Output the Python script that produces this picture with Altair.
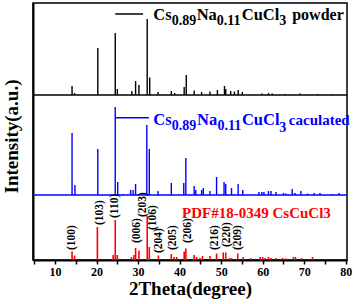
import altair as alt
import pandas as pd

# ---------------- data ----------------
# Cs0.89Na0.11CuCl3 powder (black)
powder_2theta = [14.1, 14.7, 20.3, 24.5, 25.0, 28.5, 29.4, 30.2, 32.2, 32.8, 34.8,
                 38.0, 38.8, 41.1, 41.6, 43.5, 45.3, 47.3, 49.1, 50.8, 51.1, 52.3,
                 53.2, 54.1, 55.1, 59.8, 61.4, 62.3, 65.4, 69.0, 73.3, 76.6]
powder_int = [9, 2, 47, 62, 6, 4, 14, 10, 76, 17.6, 3,
              4, 2, 8, 20, 4.5, 3, 3.5, 5, 9, 6, 4,
              3.5, 5, 3, 1.5, 2, 1.5, 1, 1.5, 1, 0.8]

# Cs0.89Na0.11CuCl3 calculated (blue)
calc_2theta = [14.1, 14.8, 20.3, 24.5, 25.1, 26.4, 28.2, 28.8, 29.4, 32.1, 32.7,
               34.8, 38.0, 41.0, 41.5, 43.5, 43.9, 45.3, 45.7, 47.3, 48.9, 50.7,
               51.1, 52.5, 54.1, 55.2, 59.1, 59.8, 60.3, 61.4, 62.0, 63.2, 65.0,
               65.6, 67.1, 67.8, 69.2, 70.8, 72.4, 73.8, 76.6, 78.4]
calc_int = [62, 10, 46, 88, 13, 1, 5, 5, 11, 70, 46,
            4, 12, 12, 37, 9, 5, 5, 7, 4, 18, 13,
            11, 7, 11, 5, 3, 3, 3, 4, 4, 3, 2,
            1.5, 6, 2, 4, 1.5, 2, 2, 1, 2]

# PDF#18-0349 CsCuCl3 (red sticks)
pdf_2theta = [14.1, 14.7, 20.2, 24.0, 24.5, 25.0, 28.4, 29.0, 29.4, 30.2, 32.2,
              32.7, 34.9, 38.0, 38.7, 39.3, 41.1, 41.5, 43.5, 44.1, 44.9, 45.5,
              47.3, 48.9, 50.5, 51.1, 52.0, 52.5, 54.0, 55.3, 57.1, 59.4, 60.0,
              60.6, 61.4, 62.0, 63.2, 64.8, 65.6, 67.4, 67.9, 69.4, 72.0]
pdf_int = [8.5, 4.5, 33, 5, 40, 5, 3, 5, 12, 9.5, 44,
           13, 4.5, 6, 3, 3, 8.5, 11.5, 5, 3, 2, 4,
           4, 6.5, 7.5, 7.5, 2, 2, 6.5, 3, 2, 3, 3,
           2, 3, 2, 2, 2, 1.5, 3, 3, 2, 3]

# hkl annotations
hkl_text = ["(100)", "(103)", "(110)", "(006)", "(203)", "(106)",
            "(204)", "(205)", "(206)", "(216)", "(220)", "(209)"]
hkl_2theta = [14.0, 20.8, 24.45, 29.7, 31.3, 33.6, 35.1, 38.5, 42.0, 48.5, 51.3, 54.1]
hkl_bottom = [10, 35, 42, 17, 43, 30, 7, 10, 17, 10, 13, 10]

POWDER_BASE = 165
CALC_BASE = 65
X_DOMAIN = [4.7, 80.3]
Y_DOMAIN = [0, 257]
FONT = "Liberation Serif"
BLACK, BLUE, RED = "#000000", "#0000ff", "#ff0000"
MAIN, SUB = 16.5, 14

# ---------------- tables ----------------
peaks = pd.concat([
    pd.DataFrame({"x": powder_2theta, "y": POWDER_BASE,
                  "y2": [POWDER_BASE + v for v in powder_int], "c": BLACK}),
    pd.DataFrame({"x": calc_2theta, "y": CALC_BASE,
                  "y2": [CALC_BASE + v for v in calc_int], "c": BLUE}),
], ignore_index=True)
sticks = pd.DataFrame({"x": pdf_2theta, "y": 0, "y2": pdf_int, "c": RED})

baselines = pd.DataFrame({"x": [X_DOMAIN[0]] * 2, "x2": [X_DOMAIN[1]] * 2,
                          "y": [POWDER_BASE, CALC_BASE], "c": [BLACK, BLUE]})
leaders = pd.DataFrame({"x": [24.5, 24.5], "x2": [31.2, 32.6],
                        "y": [246, 142.3], "c": [BLACK, BLUE]})

ann = pd.DataFrame([
    # powder label
    ("Cs", 33.65, 240, MAIN, BLACK), ("0.89", 38.1, 235, SUB, BLACK),
    ("Na", 44.1, 240, MAIN, BLACK), ("0.11", 48.95, 235, SUB, BLACK),
    ("CuCl", 54.95, 240, MAIN, BLACK), ("3", 64.0, 235, SUB, BLACK),
    ("powder", 67.1, 240, 16, BLACK),
    # calculated label
    ("Cs", 33.65, 135, MAIN, BLUE), ("0.89", 38.1, 130, SUB, BLUE),
    ("Na", 44.2, 135, MAIN, BLUE), ("0.11", 49.1, 130, SUB, BLUE),
    ("CuCl", 55.0, 135, MAIN, BLUE), ("3", 64.0, 128, SUB, BLUE),
    ("caculated", 66.3, 135, 15, BLUE),
    # PDF label
    ("PDF#18-0349 CsCuCl3", 40.6, 42, 15, RED),
], columns=["t", "x", "y", "s", "c"])

hkl = pd.DataFrame({"t": hkl_text, "x": hkl_2theta, "y": hkl_bottom})

xscale = alt.Scale(domain=X_DOMAIN, nice=False, zero=False)
yscale = alt.Scale(domain=Y_DOMAIN, nice=False, zero=False)
xaxis = alt.Axis(values=list(range(5, 81, 5)), labelExpr="datum.value % 10 == 0 ? datum.label : ''",
                 title="2Theta(degree)", grid=False)
yaxis = alt.Axis(title="Intensity(a.u.)", labels=False, ticks=False, grid=False, titleY=133)


def X(f="x"):
    return alt.X(f, type="quantitative", scale=xscale, axis=xaxis)


def Y(f="y"):
    return alt.Y(f, type="quantitative", scale=yscale, axis=yaxis)


col = alt.Color("c:N", scale=None)

base_layer = alt.Chart(baselines).mark_rule(strokeWidth=1.4).encode(
    x=X(), x2="x2", y=Y(), color=col)
peak_layer = alt.Chart(peaks).mark_rule(strokeWidth=1.4).encode(
    x=X(), y=Y(), y2="y2", color=col)
stick_layer = alt.Chart(sticks).mark_rule(strokeWidth=1.6).encode(
    x=X(), y=Y(), y2="y2", color=col)
lead_layer = alt.Chart(leaders).mark_rule(strokeWidth=1.5).encode(
    x=X(), x2="x2", y=Y(), color=col)
ann_layer = alt.Chart(ann).mark_text(
    align="left", baseline="alphabetic", font=FONT, fontWeight="bold").encode(
    x=X(), y=Y(), text="t:N", size=alt.Size("s:Q", scale=None), color=col)
hkl_layer = alt.Chart(hkl).mark_text(
    align="left", baseline="middle", angle=270, font=FONT, fontWeight="bold",
    fontSize=11.5, color=BLACK).encode(x=X(), y=Y(), text="t:N")

chart = alt.layer(base_layer, peak_layer, stick_layer, lead_layer, ann_layer, hkl_layer).properties(
    width=314, height=257,
    autosize=alt.AutoSizeParams(type="none"),
    padding={"left": 33, "top": 3, "right": 7, "bottom": 44},
    background="white",
).configure_view(
    stroke="black", strokeWidth=1.5
).configure_axis(
    domainColor="black", domainWidth=2, tickColor="black", tickWidth=1.5, tickSize=4,
    labelFont=FONT, labelFontWeight="bold", labelFontSize=12, labelColor="black",
    labelPadding=2, titleFont=FONT, titleFontWeight="bold", titleFontSize=19,
    titleColor="black",
).configure_axisX(titlePadding=2).configure_axisY(titlePadding=12)

chart.save("out.html", embed_options={"renderer": "svg", "actions": False})
